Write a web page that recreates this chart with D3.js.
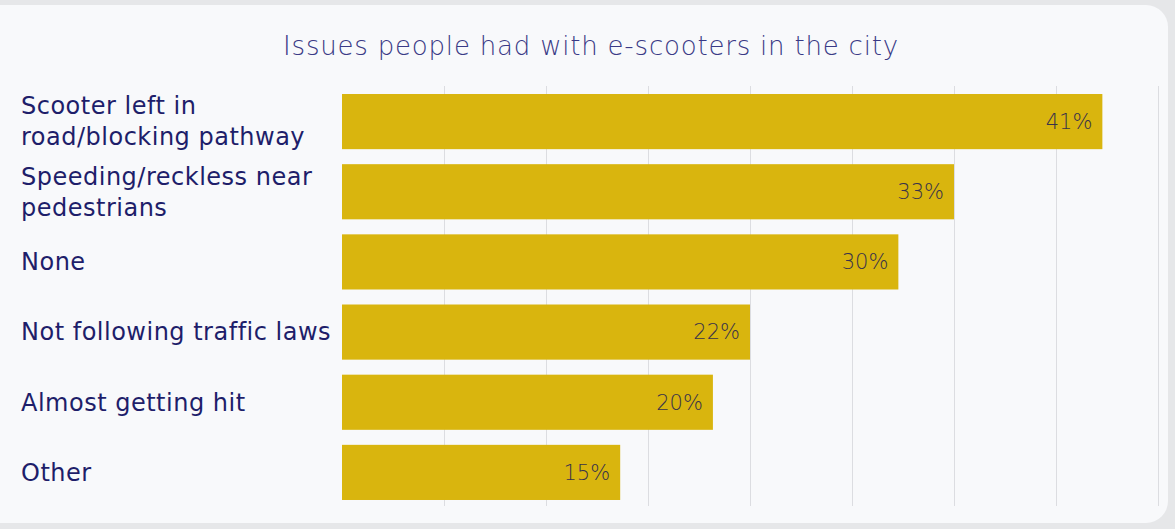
<!DOCTYPE html>
<html>
<head>
<meta charset="utf-8">
<script src="https://cdn.jsdelivr.net/npm/d3@7"></script>
<style>
  html, body { margin: 0; padding: 0; background: #e6e7e9; }
  svg { display: block; }
</style>
</head>
<body>
<svg id="chart" width="1175" height="529"></svg>
<script>
// Survey results: share of respondents reporting each issue (%)
const categories = [
  "Scooter left in road/blocking pathway",
  "Speeding/reckless near pedestrians",
  "None",
  "Not following traffic laws",
  "Almost getting hit",
  "Other"
];
const values = [41, 33, 30, 22, 20, 15];
const gridTicks = [5.5, 11, 16.5, 22, 27.5, 33, 38.5, 44];
const title = "Issues people had with e-scooters in the city";

const svg = d3.select("#chart");

// card background
svg.append("rect")
  .attr("x", -20).attr("y", 5)
  .attr("width", 1188).attr("height", 518)
  .attr("rx", 22).attr("ry", 22)
  .attr("fill", "#f8f9fb");

const x = d3.scaleLinear().domain([0, 44]).range([342, 1158]);
const y = d3.scaleBand().domain(categories)
  .range([87, 507]).paddingInner(0.214).paddingOuter(0.1);

// vertical gridlines
svg.append("g")
  .selectAll("line")
  .data(gridTicks)
  .join("line")
  .attr("x1", d => Math.round(x(d)) + 0.5)
  .attr("x2", d => Math.round(x(d)) + 0.5)
  .attr("y1", 86).attr("y2", 506)
  .attr("stroke", "#dcdde1").attr("stroke-width", 1);

// title
svg.append("text")
  .attr("x", 591).attr("y", 55)
  .attr("text-anchor", "middle")
  .attr("font-family", "DejaVu Sans, sans-serif")
  .attr("font-weight", 200)
  .attr("font-size", 26)
  .attr("letter-spacing", 0.8)
  .attr("fill", "#3a3a86")
  .text(title);

// bars
svg.append("g")
  .selectAll("rect")
  .data(values)
  .join("rect")
  .attr("x", x(0))
  .attr("y", (d, i) => y(categories[i]))
  .attr("width", d => x(d) - x(0))
  .attr("height", y.bandwidth())
  .attr("fill", "#d9b50e");

// value labels
svg.append("g")
  .selectAll("text")
  .data(values)
  .join("text")
  .attr("x", d => x(d) - 10)
  .attr("y", (d, i) => y(categories[i]) + y.bandwidth() / 2)
  .attr("dy", "0.35em")
  .attr("text-anchor", "end")
  .attr("font-family", "DejaVu Sans, sans-serif")
  .attr("font-weight", 200)
  .attr("font-size", 21)
  .attr("fill", "#38324a")
  .text(d => d + "%");

// category labels, wrapped to fit the left column
const labelMax = 318;
const labels = svg.append("g")
  .selectAll("text")
  .data(categories)
  .join("text")
  .attr("x", 21)
  .attr("font-family", "DejaVu Sans, sans-serif")
  .attr("font-size", 24)
  .attr("letter-spacing", 0.5)
  .attr("fill", "#1e1e6a");

labels.each(function(d) {
  const t = d3.select(this);
  const words = d.split(" ");
  const lines = [];
  let line = [];
  const probe = t.append("tspan");
  for (const w of words) {
    line.push(w);
    probe.text(line.join(" "));
    if (probe.node().getComputedTextLength() > labelMax && line.length > 1) {
      line.pop();
      lines.push(line.join(" "));
      line = [w];
    }
  }
  lines.push(line.join(" "));
  probe.remove();
  const lh = 31;
  const cy = y(d) + y.bandwidth() / 2;
  const y0 = cy - (lines.length - 1) * lh / 2;
  lines.forEach((l, i) => {
    t.append("tspan")
      .attr("x", 21)
      .attr("y", y0 + i * lh)
      .attr("dy", "0.35em")
      .text(l);
  });
});
</script>
</body>
</html>
